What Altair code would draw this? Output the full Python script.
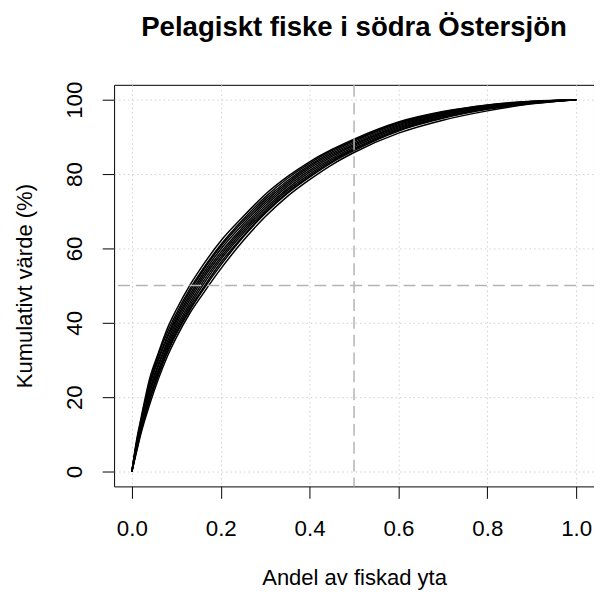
import altair as alt
import pandas as pd

# Andel av fiskad yta (x) där kurvorna är avlästa
x_share = [0, 0.01, 0.02, 0.04, 0.06, 0.08, 0.10, 0.13, 0.16, 0.20, 0.25,
           0.30, 0.35, 0.40, 0.45, 0.50, 0.60, 0.70, 0.80, 0.90, 1.00]

# Kumulativt värde (%) för varje kurva
curve_01 = [0, 8.0, 14.0, 25.0, 32.0, 38.5, 43.5, 50.0, 55.5, 62.0, 68.5, 74.5, 79.3, 83.3, 86.6, 89.4, 94.0, 96.8, 98.6, 99.6, 100]
curve_02 = [0, 7.5, 13.5, 24.0, 31.5, 37.5, 42.5, 49.0, 54.5, 61.0, 67.8, 73.8, 78.8, 82.9, 86.3, 89.1, 93.8, 96.7, 98.5, 99.5, 100]
curve_03 = [0, 7.0, 13.0, 23.5, 30.5, 36.5, 41.8, 48.3, 54.0, 60.5, 67.2, 73.2, 78.2, 82.4, 85.9, 88.8, 93.6, 96.5, 98.4, 99.5, 100]
curve_04 = [0, 7.0, 12.5, 23.0, 30.0, 36.0, 41.0, 47.5, 53.2, 59.8, 66.5, 72.6, 77.7, 82.0, 85.5, 88.4, 93.3, 96.3, 98.3, 99.4, 100]
curve_05 = [0, 6.5, 12.0, 22.0, 29.0, 35.0, 40.3, 46.8, 52.5, 59.0, 65.8, 72.0, 77.2, 81.5, 85.1, 88.0, 93.0, 96.1, 98.2, 99.4, 100]
curve_06 = [0, 6.5, 12.0, 21.5, 28.5, 34.2, 39.5, 46.0, 51.8, 58.3, 65.2, 71.4, 76.7, 81.0, 84.7, 87.7, 92.7, 95.9, 98.0, 99.3, 100]
curve_07 = [0, 6.0, 11.5, 21.0, 27.5, 33.5, 38.7, 45.2, 51.0, 57.6, 64.6, 70.8, 76.1, 80.5, 84.2, 87.3, 92.4, 95.7, 97.9, 99.2, 100]
curve_08 = [0, 6.0, 11.0, 20.0, 27.0, 33.0, 38.0, 44.5, 50.2, 57.0, 64.0, 70.2, 75.6, 80.0, 83.8, 86.9, 92.1, 95.4, 97.7, 99.2, 100]
curve_09 = [0, 5.5, 10.8, 19.5, 26.3, 32.3, 37.3, 43.8, 49.3, 56.2, 63.3, 69.7, 75.1, 79.5, 83.4, 86.6, 91.8, 95.2, 97.6, 99.1, 100]
curve_10 = [0, 5.5, 10.5, 19.0, 26.0, 32.0, 37.0, 43.3, 48.8, 55.5, 63.0, 69.4, 74.8, 79.2, 83.1, 86.3, 91.6, 95.0, 97.4, 99.0, 100]
curve_11 = [0, 5.0, 10.0, 18.0, 25.0, 31.0, 36.0, 42.5, 47.8, 54.5, 62.0, 68.5, 74.0, 78.5, 82.5, 85.8, 91.0, 94.5, 97.0, 98.9, 100]

curves = [curve_01, curve_02, curve_03, curve_04, curve_05, curve_06,
          curve_07, curve_08, curve_09, curve_10, curve_11]

x_ticks = [0, 0.2, 0.4, 0.6, 0.8, 1.0]
y_ticks = [0, 20, 40, 60, 80, 100]
ref_x = [0.5]
ref_y = [50]

rows = []
for i, ys in enumerate(curves):
    for xv, yv in zip(x_share, ys):
        rows.append({"serie": f"k{i + 1}", "andel": xv, "varde": yv})
df = pd.DataFrame(rows)

FONT = "Liberation Sans"

xscale = alt.Scale(domain=[-0.04, 1.04], nice=False, zero=False)
yscale = alt.Scale(domain=[-4, 104], nice=False, zero=False)

xaxis = alt.Axis(
    values=x_ticks, format=".1f", title="Andel av fiskad yta",
    domain=False, grid=True, gridColor="#cfcfcf", gridDash=[1.5, 3], gridWidth=1,
    ticks=True, tickSize=12, tickColor="black", tickWidth=1,
    labelFont=FONT, labelFontSize=22.5, labelColor="black",
    labelBaseline="alphabetic", labelPadding=38, labelFlush=False, labelOverlap=False,
    titleFont=FONT, titleFontSize=22.2, titleFontWeight="normal", titleColor="black",
    titleX=242, titleY=99, titleAlign="center", titleBaseline="alphabetic", titleAnchor="middle",
)
yaxis = alt.Axis(
    values=y_ticks, format="d", title="Kumulativt värde (%)",
    domain=False, grid=True, gridColor="#cfcfcf", gridDash=[1.5, 3], gridWidth=1,
    ticks=True, tickSize=12, tickColor="black", tickWidth=1,
    labelFont=FONT, labelFontSize=22.5, labelColor="black",
    labelAngle=270, labelAlign="center", labelBaseline="alphabetic",
    labelPadding=21, labelFlush=False, labelOverlap=False,
    titleFont=FONT, titleFontSize=22.2, titleFontWeight="normal", titleColor="black",
    titleAngle=270, titleX=-83, titleY=202.5, titleAlign="center",
    titleBaseline="alphabetic", titleAnchor="middle",
)

lines = alt.Chart(df).mark_line(color="black", strokeWidth=1.5, interpolate="monotone").encode(
    x=alt.X("andel:Q", scale=xscale, axis=xaxis),
    y=alt.Y("varde:Q", scale=yscale, axis=yaxis),
    detail="serie:N",
)

vline = alt.Chart(pd.DataFrame({"andel": ref_x})).mark_rule(
    color="#b4b4b4", strokeWidth=1.5, strokeDash=[12, 6]
).encode(x=alt.X("andel:Q", scale=xscale, axis=xaxis))

hline = alt.Chart(pd.DataFrame({"varde": ref_y})).mark_rule(
    color="#b4b4b4", strokeWidth=1.5, strokeDash=[12, 6]
).encode(y=alt.Y("varde:Q", scale=yscale, axis=yaxis))

chart = alt.layer(lines, vline, hline).properties(
    width=484,
    height=405,
    padding={"left": 107, "top": 75, "right": 0, "bottom": 103},
    autosize=alt.AutoSizeParams(type="none"),
    title=alt.TitleParams(
        text="Pelagiskt fiske i södra Östersjön",
        font=FONT, fontSize=27.8, fontWeight="bold", color="black",
        anchor="middle", frame="group", baseline="alphabetic", offset=18,
    ),
).configure_view(stroke="black", strokeWidth=1)

chart.save("out.html", embed_options={"renderer": "svg", "actions": False})
